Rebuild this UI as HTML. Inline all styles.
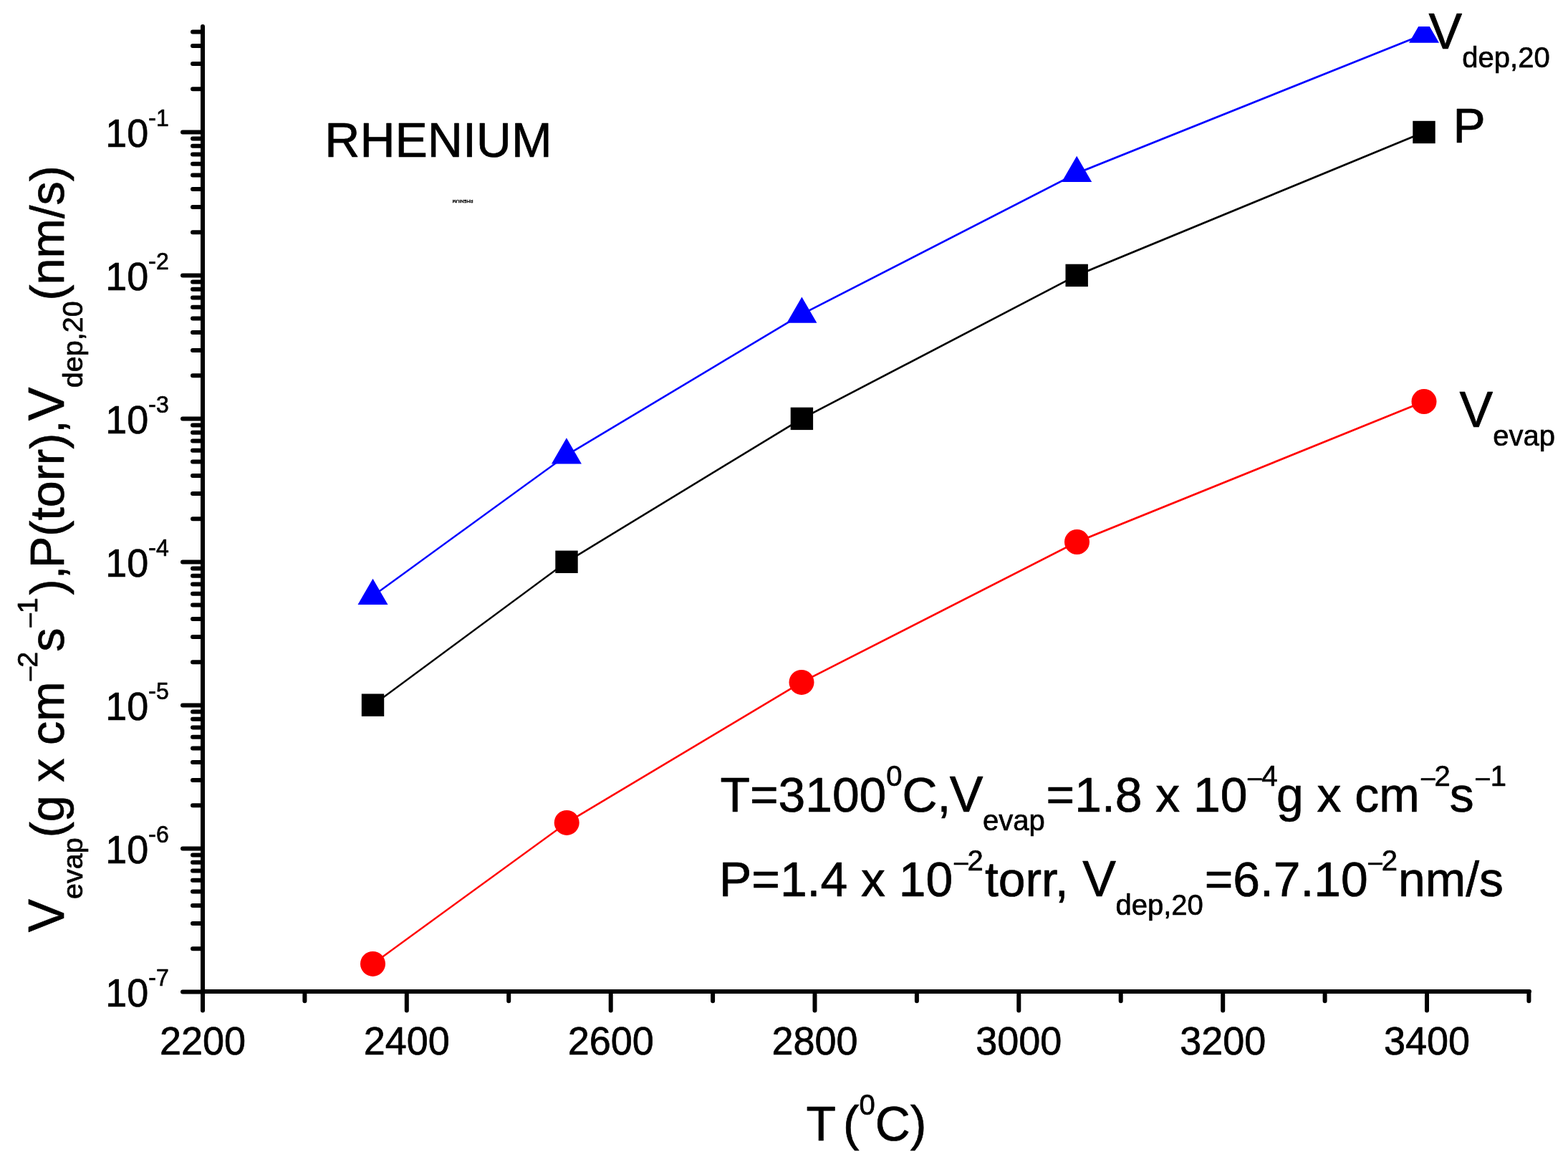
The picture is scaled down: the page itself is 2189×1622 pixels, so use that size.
<!DOCTYPE html><html><head><meta charset="utf-8"><style>html,body{margin:0;padding:0;background:#fff;width:2189px;height:1622px;overflow:hidden}svg{display:block}text{font-family:"Liberation Sans",Arial,sans-serif;fill:#000;stroke:#000;stroke-width:0.7px;stroke-linejoin:round;white-space:pre}</style></head><body>
<svg width="2189" height="1622" viewBox="0 0 2189 1622">
<defs><clipPath id="pc"><rect x="283" y="37" width="1852" height="1347"/></clipPath></defs>
<path d="M283 37V1384H2135 M283 184.4H255 M283 324.2H269 M283 289.0H269 M283 264.0H269 M283 244.6H269 M283 228.8H269 M283 215.4H269 M283 203.8H269 M283 193.6H269 M283 384.4H255 M283 524.2H269 M283 489.0H269 M283 464.0H269 M283 444.6H269 M283 428.8H269 M283 415.4H269 M283 403.8H269 M283 393.6H269 M283 584.4H255 M283 724.2H269 M283 689.0H269 M283 664.0H269 M283 644.6H269 M283 628.8H269 M283 615.4H269 M283 603.8H269 M283 593.6H269 M283 784.4H255 M283 924.2H269 M283 889.0H269 M283 864.0H269 M283 844.6H269 M283 828.8H269 M283 815.4H269 M283 803.8H269 M283 793.6H269 M283 984.4H255 M283 1124.2H269 M283 1089.0H269 M283 1064.0H269 M283 1044.6H269 M283 1028.8H269 M283 1015.4H269 M283 1003.8H269 M283 993.6H269 M283 1184.4H255 M283 1324.2H269 M283 1289.0H269 M283 1264.0H269 M283 1244.6H269 M283 1228.8H269 M283 1215.4H269 M283 1203.8H269 M283 1193.6H269 M283 1384.4H255 M283 124.2H269 M283 89.0H269 M283 64.0H269 M283 44.6H269 M283.0 1384V1410.5 M425.4 1384V1397.3 M567.8 1384V1410.5 M710.2 1384V1397.3 M852.7 1384V1410.5 M995.1 1384V1397.3 M1137.5 1384V1410.5 M1279.9 1384V1397.3 M1422.3 1384V1410.5 M1564.7 1384V1397.3 M1707.2 1384V1410.5 M1849.6 1384V1397.3 M1992.0 1384V1410.5 M2134.4 1384V1397.3" fill="none" stroke="#000" stroke-width="6" stroke-linecap="round" stroke-linejoin="round"/>
<g clip-path="url(#pc)">
<line x1="520.5" y1="831.9" x2="790.9" y2="635.4" stroke="#00f" stroke-width="2.43"/>
<line x1="790.9" y1="635.4" x2="1119.4" y2="438.6" stroke="#00f" stroke-width="2.57"/>
<line x1="1119.4" y1="438.6" x2="1503.2" y2="241.9" stroke="#00f" stroke-width="2.67"/>
<line x1="1503.2" y1="241.9" x2="1988" y2="47.7" stroke="#00f" stroke-width="2.78"/>
<line x1="520.5" y1="984.2" x2="791" y2="784.3" stroke="#000" stroke-width="2.41"/>
<line x1="791" y1="784.3" x2="1119.4" y2="584.4" stroke="#000" stroke-width="2.56"/>
<line x1="1119.4" y1="584.4" x2="1503.2" y2="384.4" stroke="#000" stroke-width="2.66"/>
<line x1="1503.2" y1="384.4" x2="1988" y2="184.5" stroke="#000" stroke-width="2.77"/>
<line x1="520.5" y1="1345.4" x2="791.2" y2="1148.4" stroke="#f00" stroke-width="2.43"/>
<line x1="791.2" y1="1148.4" x2="1119" y2="952.4" stroke="#f00" stroke-width="2.57"/>
<line x1="1119" y1="952.4" x2="1503.5" y2="756.5" stroke="#f00" stroke-width="2.67"/>
<line x1="1503.5" y1="756.5" x2="1988" y2="560.5" stroke="#f00" stroke-width="2.78"/>
<polygon points="520.5,807.7 541.5,844.0 499.5,844.0" fill="#00f"/>
<polygon points="790.9,611.2 811.9,647.5 769.9,647.5" fill="#00f"/>
<polygon points="1119.4,414.4 1140.4,450.7 1098.4,450.7" fill="#00f"/>
<polygon points="1503.2,217.7 1524.2,254.0 1482.2,254.0" fill="#00f"/>
<polygon points="1988,23.5 2009.0,59.8 1967.0,59.8" fill="#00f"/>
<rect x="504.8" y="968.5" width="31.4" height="31.4" fill="#000"/>
<rect x="775.3" y="768.6" width="31.4" height="31.4" fill="#000"/>
<rect x="1103.7" y="568.7" width="31.4" height="31.4" fill="#000"/>
<rect x="1487.5" y="368.7" width="31.4" height="31.4" fill="#000"/>
<rect x="1972.3" y="168.8" width="31.4" height="31.4" fill="#000"/>
<circle cx="520.5" cy="1345.4" r="17.5" fill="#f00"/>
<circle cx="791.2" cy="1148.4" r="17.5" fill="#f00"/>
<circle cx="1119" cy="952.4" r="17.5" fill="#f00"/>
<circle cx="1503.5" cy="756.5" r="17.5" fill="#f00"/>
<circle cx="1988" cy="560.5" r="17.5" fill="#f00"/>
</g>
<text transform="translate(147.2,205.3) scale(1,1.035)"><tspan font-size="54">10</tspan><tspan font-size="32" dy="-28.3">-1</tspan></text>
<text transform="translate(147.2,405.3) scale(1,1.035)"><tspan font-size="54">10</tspan><tspan font-size="32" dy="-28.3">-2</tspan></text>
<text transform="translate(147.2,605.3) scale(1,1.035)"><tspan font-size="54">10</tspan><tspan font-size="32" dy="-28.3">-3</tspan></text>
<text transform="translate(147.2,805.3) scale(1,1.035)"><tspan font-size="54">10</tspan><tspan font-size="32" dy="-28.3">-4</tspan></text>
<text transform="translate(147.2,1005.3) scale(1,1.035)"><tspan font-size="54">10</tspan><tspan font-size="32" dy="-28.3">-5</tspan></text>
<text transform="translate(147.2,1205.3) scale(1,1.035)"><tspan font-size="54">10</tspan><tspan font-size="32" dy="-28.3">-6</tspan></text>
<text transform="translate(147.2,1405.3) scale(1,1.035)"><tspan font-size="54">10</tspan><tspan font-size="32" dy="-28.3">-7</tspan></text>
<text transform="translate(283.0,1471.5) scale(1,1.045)" font-size="54" text-anchor="middle">2200</text>
<text transform="translate(567.8,1471.5) scale(1,1.045)" font-size="54" text-anchor="middle">2400</text>
<text transform="translate(852.7,1471.5) scale(1,1.045)" font-size="54" text-anchor="middle">2600</text>
<text transform="translate(1137.5,1471.5) scale(1,1.045)" font-size="54" text-anchor="middle">2800</text>
<text transform="translate(1422.3,1471.5) scale(1,1.045)" font-size="54" text-anchor="middle">3000</text>
<text transform="translate(1707.2,1471.5) scale(1,1.045)" font-size="54" text-anchor="middle">3200</text>
<text transform="translate(1992.0,1471.5) scale(1,1.045)" font-size="54" text-anchor="middle">3400</text>
<text x="1125.4" y="1591.9"><tspan font-size="67.8">T</tspan><tspan font-size="67.8" dx="10.2">(</tspan><tspan font-size="40" dy="-36.2">0</tspan><tspan font-size="67.8" dy="36.2">C)</tspan></text>
<text x="453.3" y="219.1" font-size="68">RHENIUM</text>
<text transform="translate(660.5,278.8) rotate(180)" font-size="6.2" style="stroke-width:0.35px">RHENIUM</text>
<text x="1994.6" y="67.8"><tspan font-size="70">V</tspan><tspan font-size="40" dy="26">dep,20</tspan></text>
<text x="2028.5" y="198.8" font-size="67.8">P</text>
<text x="2037.6" y="595.9"><tspan font-size="70">V</tspan><tspan font-size="40" dy="26">evap</tspan></text>
<text x="1005.5" y="1132.9"><tspan font-size="67.8">T=3100</tspan><tspan font-size="40" dy="-36.2">0</tspan><tspan font-size="67.8" dy="36.2">C,</tspan><tspan font-size="70" x="1325.8">V</tspan><tspan font-size="40" x="1372.0" dy="25.9">evap</tspan><tspan font-size="67.8" x="1460.6" dy="-25.9">=1.8 x 10</tspan><tspan font-size="35" x="1741.9" dy="-36.2">–</tspan><tspan font-size="40">4</tspan><tspan font-size="67.8" x="1782.0" dy="36.2">g x cm</tspan><tspan font-size="35" x="1984.0" dy="-36.2">–</tspan><tspan font-size="40" dx="-1">2</tspan><tspan font-size="67.8" x="2023.8" dy="36.2">s</tspan><tspan font-size="35" x="2060.3" dy="-36.2">–</tspan><tspan font-size="40" dx="1">1</tspan></text>
<text x="1004.1" y="1251.1"><tspan font-size="67.8">P=1.4 x 10</tspan><tspan font-size="35" x="1332.0" dy="-36.2">–</tspan><tspan font-size="40" dx="-1">2</tspan><tspan font-size="67.8" x="1374.9" dy="36.2">torr, </tspan><tspan font-size="70" x="1511.3">V</tspan><tspan font-size="40" x="1557.4" dy="25.9">dep,20</tspan><tspan font-size="67.8" x="1681.7" dy="-25.9">=6.7.10</tspan><tspan font-size="35" x="1910.2" dy="-36.2">–</tspan><tspan font-size="40" dx="-1">2</tspan><tspan font-size="67.8" x="1952.1" dy="36.2">nm/s</tspan></text>
<text transform="translate(89,1301.3) rotate(-90)"><tspan font-size="69.5">V</tspan><tspan font-size="39.5" dy="26">evap</tspan><tspan font-size="66.5" dy="-26">(g x cm</tspan><tspan font-size="35" dy="-37" dx="1">–</tspan><tspan font-size="39.5" dx="-1">2</tspan><tspan font-size="66.5" dy="37">s</tspan><tspan font-size="35" dy="-37" dx="1">–</tspan><tspan font-size="39.5">1</tspan><tspan font-size="66.5" x="470.9" dy="37">),</tspan><tspan font-size="66.5" x="508.2">P(torr),</tspan><tspan font-size="70" x="714.1">V</tspan><tspan font-size="39.5" x="760.1" dy="26">dep,20</tspan><tspan font-size="66.5" x="881.7" dy="-26">(nm/s)</tspan></text>
</svg></body></html>
